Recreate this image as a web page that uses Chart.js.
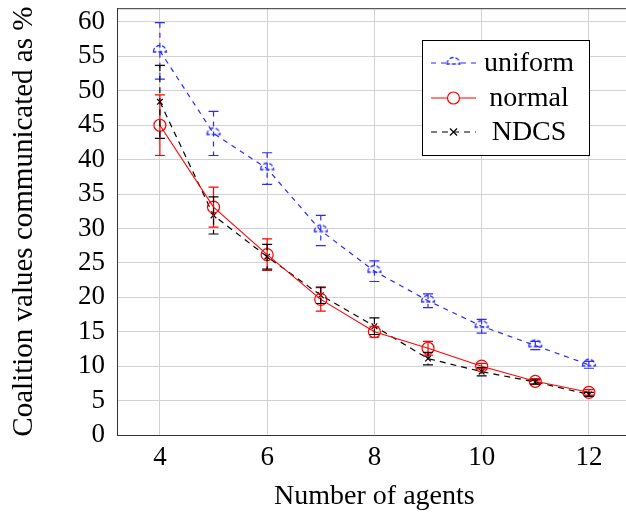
<!DOCTYPE html>
<html>
<head>
<meta charset="utf-8">
<script src="https://cdn.jsdelivr.net/npm/chart.js@4.4.1/dist/chart.umd.min.js"></script>
<style>
	html, body { margin: 0; padding: 0; background: #fff; overflow: hidden; }
	#wrap { width: 640px; height: 516px; }
</style>
</head>
<body>
<div id="wrap"><canvas id="chart" width="640" height="516"></canvas></div>
<script>
// values
const agents = [4, 5, 6, 7, 8, 9, 10, 11, 12]
const uniform = [55.8, 43.8, 38.7, 29.7, 23.8, 19.5, 15.8, 13.0, 10.2]
const uniformErr = [4.1, 3.2, 2.3, 2.2, 1.5, 1.0, 1.0, 0.6, 0.5]
const normal = [45.0, 33.1, 26.2, 19.7, 15.0, 12.6, 10.0, 7.8, 6.2]
const normalErr = [4.4, 2.9, 2.3, 1.7, 0.8, 1.0, 0.4, 0.4, 0.4]
const ndcs = [48.4, 31.9, 25.9, 20.3, 15.8, 11.1, 9.2, 7.7, 5.9]
const ndcsErr = [5.3, 2.7, 1.8, 1.2, 1.2, 0.9, 0.6, 0.3, 0.3]
const xTicks = [4, 6, 8, 10, 12]
const yTicks = [0, 5, 10, 15, 20, 25, 30, 35, 40, 45, 50, 55, 60]

const serif = "'Liberation Serif', 'DejaVu Serif', serif"
const blue = '#2a2aff'
const red = '#ff0000'

makeHalfCircle = (color) => {
	const c = document.createElement('canvas')
	c.width = 18
	c.height = 18
	const g = c.getContext('2d')
	g.strokeStyle = color
	g.lineWidth = 1.3
	g.setLineDash([4, 2])
	g.beginPath()
	g.arc(9, 10, 6.5, Math.PI, 2 * Math.PI)
	g.closePath()
	g.stroke()
	return c
}
const halfCircle = makeHalfCircle(blue)

toPoints = (ys) => agents.map((a, i) => ({ x: a, y: ys[i] }))

const errorBars = {
	id: 'errorBars',
	afterDatasetsDraw(chart) {
		const ctx = chart.ctx
		const yScale = chart.scales.y
		const area = chart.chartArea
		ctx.save()
		ctx.beginPath()
		ctx.rect(area.left, area.top, area.right - area.left, area.bottom - area.top)
		ctx.clip()
		chart.data.datasets.forEach((ds, i) => {
			const meta = chart.getDatasetMeta(i)
			ctx.strokeStyle = ds.borderColor
			ctx.lineWidth = 1.2
			meta.data.forEach((pt, j) => {
				const v = ds.data[j].y
				const top = yScale.getPixelForValue(v + ds.errors[j])
				const bot = yScale.getPixelForValue(v - ds.errors[j])
				ctx.setLineDash(ds.borderDash || [])
				ctx.beginPath()
				ctx.moveTo(pt.x, top)
				ctx.lineTo(pt.x, bot)
				ctx.stroke()
				ctx.setLineDash([])
				ctx.beginPath()
				ctx.moveTo(pt.x - 5, top)
				ctx.lineTo(pt.x + 5, top)
				ctx.moveTo(pt.x - 5, bot)
				ctx.lineTo(pt.x + 5, bot)
				ctx.stroke()
			})
		})
		ctx.restore()
	}
}

const boxAndLegend = {
	id: 'boxAndLegend',
	afterDraw(chart) {
		const ctx = chart.ctx
		const a = chart.chartArea
		ctx.save()
		// top edge of the axis box
		ctx.strokeStyle = '#333'
		ctx.lineWidth = 1
		ctx.beginPath()
		ctx.moveTo(a.left, a.top + 0.5)
		ctx.lineTo(a.right, a.top + 0.5)
		ctx.stroke()
		// legend
		const lx = 422, ly = 40, lw = 167, lh = 115
		ctx.fillStyle = '#fff'
		ctx.fillRect(lx, ly, lw, lh)
		ctx.strokeStyle = '#000'
		ctx.strokeRect(lx + 0.5, ly + 0.5, lw, lh)
		const rows = [63, 98, 132]
		ctx.font = '28px ' + serif
		ctx.textAlign = 'center'
		ctx.textBaseline = 'middle'
		chart.data.datasets.forEach((ds, i) => {
			const y = rows[i]
			ctx.strokeStyle = ds.borderColor
			ctx.lineWidth = 1.2
			ctx.setLineDash(ds.borderDash || [])
			ctx.beginPath()
			ctx.moveTo(431, y)
			ctx.lineTo(476, y)
			ctx.stroke()
			ctx.setLineDash([])
			const mx = 453.5
			if (ds.pointStyle === 'circle') {
				ctx.fillStyle = '#fff'
				ctx.beginPath()
				ctx.arc(mx, y, 6, 0, 2 * Math.PI)
				ctx.fill()
				ctx.stroke()
			} else if (ds.pointStyle === 'crossRot') {
				ctx.beginPath()
				ctx.moveTo(mx - 3.5, y - 3.5)
				ctx.lineTo(mx + 3.5, y + 3.5)
				ctx.moveTo(mx + 3.5, y - 3.5)
				ctx.lineTo(mx - 3.5, y + 3.5)
				ctx.stroke()
			} else {
				ctx.fillStyle = '#fff'
				ctx.fillRect(mx - 7, y - 7, 14, 14)
				ctx.drawImage(ds.pointStyle, mx - 9, y - 9)
			}
			ctx.fillStyle = '#000'
			ctx.fillText(ds.label, 529, y + 1)
		})
		ctx.restore()
	}
}

const config = {
	type: 'line',
	data: {
		datasets: [
			{
				label: 'uniform',
				data: toPoints(uniform),
				errors: uniformErr,
				borderColor: blue,
				borderWidth: 1.2,
				borderDash: [5, 5],
				pointStyle: halfCircle,
				pointRadius: 7,
				fill: false
			},
			{
				label: 'normal',
				data: toPoints(normal),
				errors: normalErr,
				borderColor: red,
				borderWidth: 1.1,
				pointStyle: 'circle',
				pointRadius: 6,
				pointBorderWidth: 1.2,
				pointBackgroundColor: 'rgba(0,0,0,0)',
				fill: false
			},
			{
				label: 'NDCS',
				data: toPoints(ndcs),
				errors: ndcsErr,
				borderColor: '#000',
				borderWidth: 1.2,
				borderDash: [6, 5],
				pointStyle: 'crossRot',
				pointRadius: 4,
				pointBorderWidth: 1.2,
				fill: false
			}
		]
	},
	options: {
		responsive: false,
		animation: false,
		events: [],
		layout: { padding: { top: 2, right: 4, left: 0, bottom: 0 } },
		plugins: {
			legend: { display: false },
			tooltip: { enabled: false }
		},
		scales: {
			x: {
				type: 'linear',
				min: 3.2,
				max: 12.8,
				afterBuildTicks: (s) => { s.ticks = xTicks.map((v) => ({ value: v })) },
				afterFit: (s) => { s.height = 81; s.paddingLeft = 0; s.paddingRight = 0 },
				ticks: { font: { family: serif, size: 27 }, color: '#000', padding: 7, autoSkip: false, maxRotation: 0 },
				grid: { color: '#d2d2d2', lineWidth: 1, drawTicks: false },
				border: { display: true, color: '#333', width: 1 },
				title: { display: true, text: 'Number of agents', font: { family: serif, size: 28 }, color: '#000', padding: { top: 0, bottom: 3 } }
			},
			y: {
				min: 0,
				max: 62,
				afterBuildTicks: (s) => { s.ticks = yTicks.map((v) => ({ value: v })) },
				afterFit: (s) => { s.width = 117; s.paddingTop = 0; s.paddingBottom = 0 },
				ticks: { font: { family: serif, size: 27 }, color: '#000', padding: 12, autoSkip: false },
				grid: { color: '#d2d2d2', lineWidth: 1, drawTicks: false },
				border: { display: true, color: '#333', width: 1 },
				title: { display: true, text: 'Coalition values communicated as %', font: { family: serif, size: 29 }, color: '#000', padding: { top: 7, bottom: 0 } }
			}
		}
	},
	plugins: [errorBars, boxAndLegend]
}

const ctx = document.querySelector('#chart').getContext('2d')
const chart = new Chart(ctx, config)
</script>
</body>
</html>
